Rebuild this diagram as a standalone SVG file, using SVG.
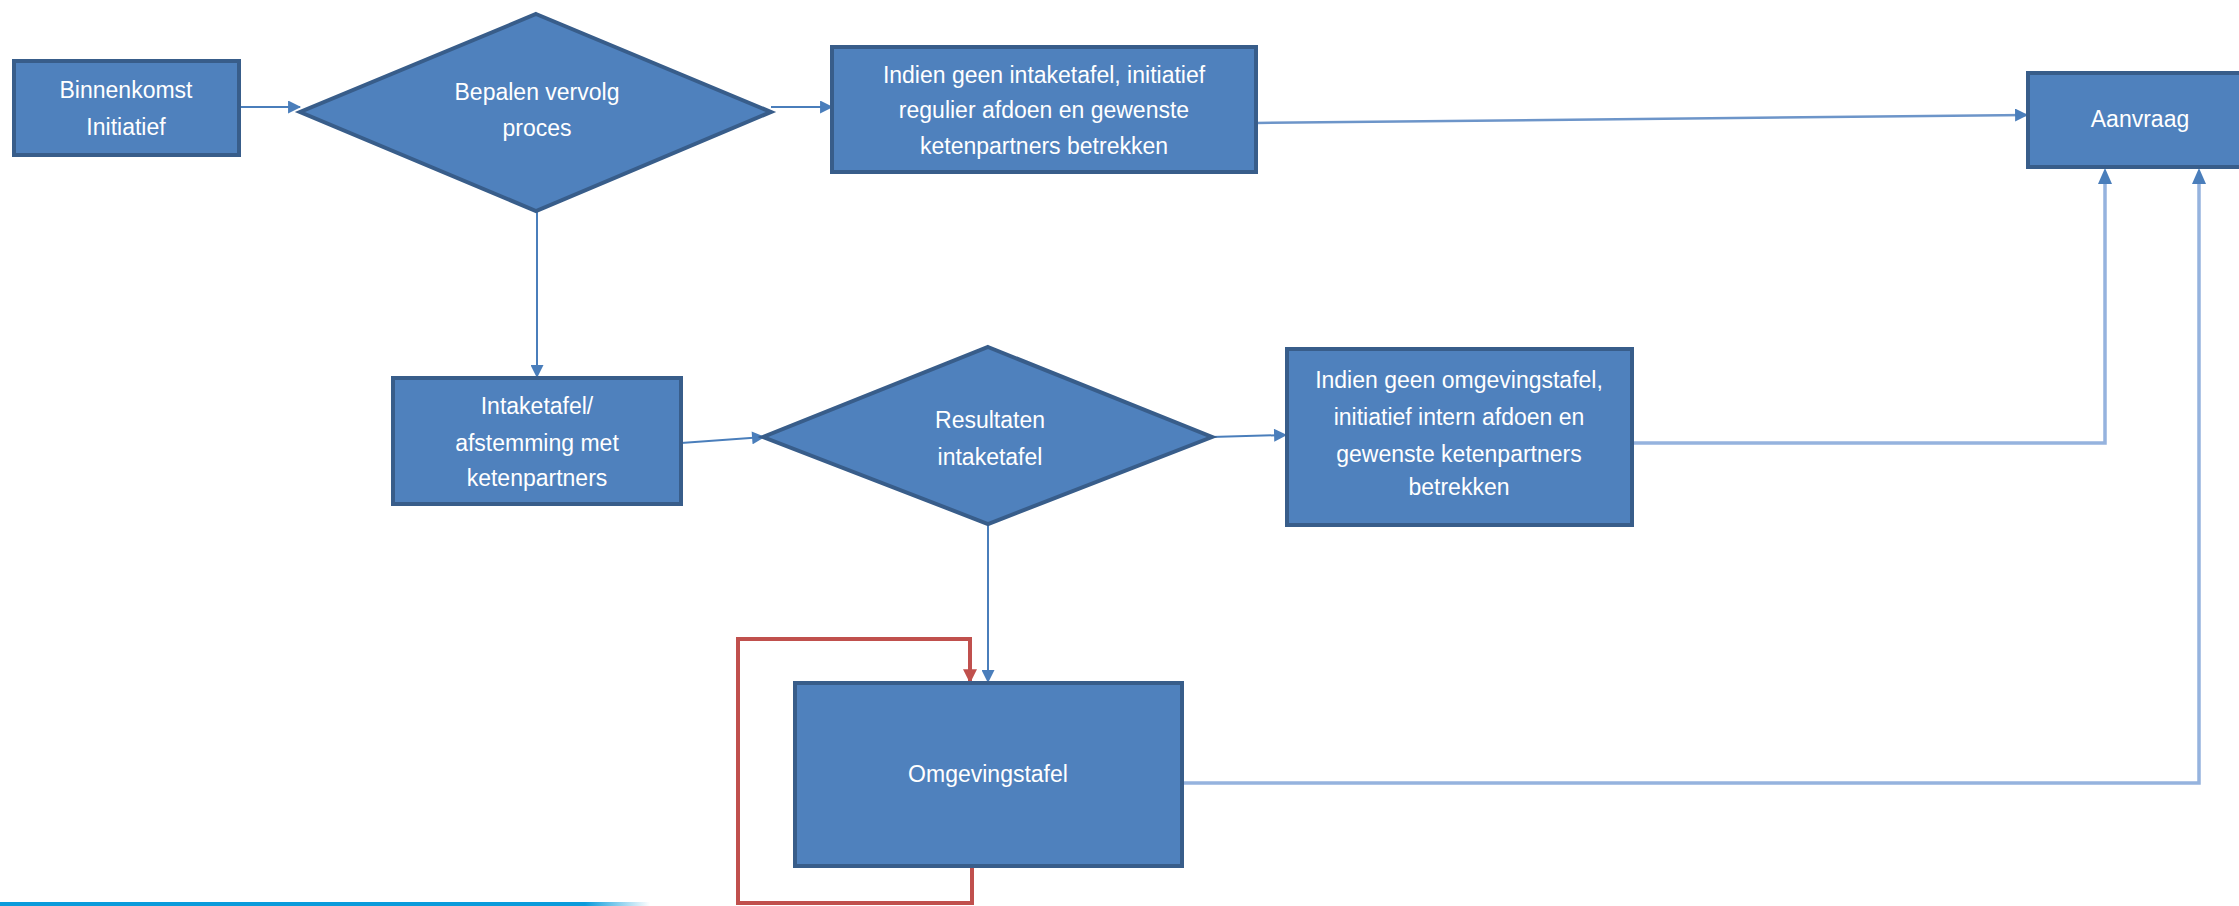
<svg xmlns="http://www.w3.org/2000/svg" width="2239" height="906" viewBox="0 0 2239 906">
<style>
.box{fill:#4F81BD;stroke:#385D8A;stroke-width:4}
.t{font-family:"Liberation Sans",Arial,sans-serif;font-size:23px;fill:#FFFFFF;text-anchor:middle}
.c{fill:none;stroke:#4A7EBB;stroke-width:2}
.cl{fill:none;stroke:#95B3DE;stroke-width:3.5}
.cr{fill:none;stroke:#C0504D;stroke-width:4}
</style>
<defs>
<marker id="ab" viewBox="0 0 12 12" refX="11" refY="6" markerWidth="14" markerHeight="13" orient="auto" markerUnits="userSpaceOnUse">
<path d="M0,0 L12,6 L0,12 z" fill="#4A7EBB"/>
</marker>
<marker id="ar" viewBox="0 0 12 12" refX="11" refY="6" markerWidth="18" markerHeight="14" orient="auto" markerUnits="userSpaceOnUse">
<path d="M0,0 L12,6 L0,12 z" fill="#C0504D"/>
</marker>
<linearGradient id="bar" x1="0" y1="0" x2="1" y2="0">
<stop offset="0" stop-color="#0A9BDB"/>
<stop offset="0.9" stop-color="#0A9BDB"/>
<stop offset="1" stop-color="#0A9BDB" stop-opacity="0"/>
</linearGradient>
</defs>
<rect x="0" y="0" width="2239" height="906" fill="#FFFFFF"/>
<rect x="0" y="902" width="650" height="4" fill="url(#bar)"/>

<g id="connectors">
<line class="c" x1="240" y1="107" x2="300" y2="107" marker-end="url(#ab)"/>
<line class="c" x1="771" y1="107" x2="832" y2="107" marker-end="url(#ab)"/>
<line class="c" x1="1256" y1="123" x2="2027" y2="115" marker-end="url(#ab)" style="stroke:#6D95C9;stroke-width:2.5"/>
<line class="c" x1="537" y1="211" x2="537" y2="377" marker-end="url(#ab)"/>
<line class="c" x1="681" y1="443" x2="764" y2="437" marker-end="url(#ab)"/>
<line class="c" x1="1211" y1="437" x2="1286" y2="435" marker-end="url(#ab)"/>
<line class="c" x1="988" y1="524" x2="988" y2="682" marker-end="url(#ab)"/>
<path class="cl" d="M1632,443 L2105,443 L2105,180"/>
<path d="M2105,168 L2098,184 L2112,184 z" fill="#4A7EBB"/>
<path class="cl" d="M1182,783 L2199,783 L2199,180"/>
<path d="M2199,168 L2192,184 L2206,184 z" fill="#4A7EBB"/>
<path class="cr" d="M972,867 L972,903 L738,903 L738,639 L970,639 L970,682" marker-end="url(#ar)"/>
</g>

<g id="binnenkomst">
<rect class="box" x="14" y="61" width="225" height="94"/>
<text class="t" x="126" y="98">Binnenkomst</text>
<text class="t" x="126" y="135">Initiatief</text>
</g>

<g id="bepalen">
<polygon class="box" points="536,14 771,112 536,211 300,112"/>
<text class="t" x="537" y="100">Bepalen vervolg</text>
<text class="t" x="537" y="136">proces</text>
</g>

<g id="geen-intaketafel">
<rect class="box" x="832" y="47" width="424" height="125"/>
<text class="t" x="1044" y="83">Indien geen intaketafel, initiatief</text>
<text class="t" x="1044" y="118">regulier afdoen en gewenste</text>
<text class="t" x="1044" y="154">ketenpartners betrekken</text>
</g>

<g id="aanvraag">
<rect class="box" x="2028" y="73" width="240" height="94"/>
<text class="t" x="2140" y="127">Aanvraag</text>
</g>

<g id="intaketafel">
<rect class="box" x="393" y="378" width="288" height="126"/>
<text class="t" x="537" y="414">Intaketafel/</text>
<text class="t" x="537" y="451">afstemming met</text>
<text class="t" x="537" y="486">ketenpartners</text>
</g>

<g id="resultaten">
<polygon class="box" points="988,347 1212,437 988,524 763,437"/>
<text class="t" x="990" y="428">Resultaten</text>
<text class="t" x="990" y="465">intaketafel</text>
</g>

<g id="geen-omgevingstafel">
<rect class="box" x="1287" y="349" width="345" height="176"/>
<text class="t" x="1459" y="388">Indien geen omgevingstafel,</text>
<text class="t" x="1459" y="425">initiatief intern afdoen en</text>
<text class="t" x="1459" y="462">gewenste ketenpartners</text>
<text class="t" x="1459" y="495">betrekken</text>
</g>

<g id="omgevingstafel">
<rect class="box" x="795" y="683" width="387" height="183"/>
<text class="t" x="988" y="782">Omgevingstafel</text>
</g>
</svg>
